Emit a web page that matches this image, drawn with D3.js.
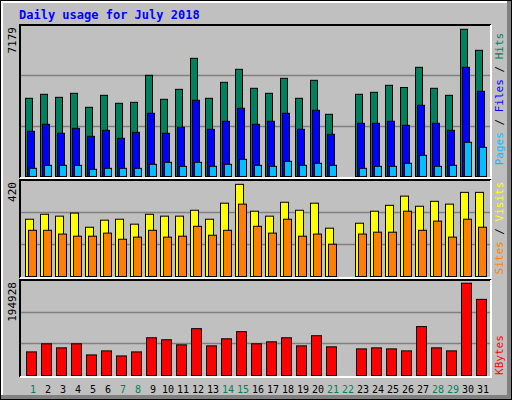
<!DOCTYPE html>
<html>
<head>
<meta charset="utf-8">
<script src="https://cdn.jsdelivr.net/npm/d3@7"></script>
<style>
body { margin: 0; background: #fff; }
text { font-family: "DejaVu Sans Mono", monospace; }
</style>
</head>
<body>
<div id="chart"></div>
<script>
// data (day 22 has no data)
var days = d3.range(1, 32);
var weekend = [1, 7, 8, 14, 15, 21, 22, 28, 29];
var hits = [3718, 3908, 3765, 3955, 3290, 3860, 3480, 3527, 4811, 3670, 4145, 5619, 3718, 4478, 5096, 4193,
            3955, 4668, 3718, 4573, 2957, 0, 3908, 4003, 4336, 4231, 5191, 4193, 3860, 6998, 5999];
var files = [2149, 2482, 2054, 2291, 1911, 2196, 1816, 2101, 3005, 2054, 2339, 3623, 2244, 2624, 3242, 2482,
             2624, 3005, 2244, 3147, 2006, 0, 2529, 2529, 2624, 2434, 3385, 2529, 2196, 5191, 4050];
var pages = [390, 532, 532, 532, 342, 390, 390, 390, 580, 675, 485, 675, 485, 580, 818, 532,
             485, 723, 532, 628, 532, 0, 390, 485, 485, 628, 1008, 485, 532, 1626, 1388];
var visits = [243, 264, 256, 269, 209, 239, 243, 222, 264, 256, 256, 281, 243, 311, 391, 277,
              256, 315, 281, 311, 205, 0, 226, 277, 302, 341, 298, 319, 307, 357, 357];
var sites = [196, 196, 180, 171, 171, 184, 158, 167, 196, 167, 171, 213, 175, 196, 307, 213,
             184, 243, 171, 180, 137, 0, 180, 188, 188, 277, 196, 235, 167, 243, 209];
var kbytes = [48400, 65000, 56700, 65000, 42200, 50500, 40100, 48400, 77400, 73300, 62900, 96100, 60800, 75300, 89900, 65000,
              69100, 77400, 60800, 81600, 58800, 0, 54600, 56700, 54600, 50500, 100300, 56700, 50500, 189400, 156200];

var W = 512, H = 400;
var svg = d3.select("#chart").append("svg").attr("width", W).attr("height", H);

// outer frame
svg.append("rect").attr("x", 0).attr("y", 0).attr("width", W).attr("height", H).attr("fill", "#000");
svg.append("rect").attr("x", 1).attr("y", 1).attr("width", W - 2).attr("height", H - 2).attr("fill", "#808080");
svg.append("rect").attr("x", 1).attr("y", 1).attr("width", W - 6).attr("height", H - 6).attr("fill", "#fff");
svg.append("rect").attr("x", 3).attr("y", 3).attr("width", W - 8).attr("height", H - 8).attr("fill", "#c0c0c0");

svg.append("text").attr("x", 19).attr("y", 19)
    .attr("font-size", "12px").attr("font-weight", "bold").attr("fill", "#0000ff")
    .text("Daily usage for July 2018");

var x = d3.scaleLinear().domain([1, 31]).range([25, 475]);

function panel(top, bottom, max, label) {
    svg.append("rect").attr("x", 20).attr("y", top).attr("width", 471).attr("height", bottom - top + 2)
        .attr("fill", "#c0c0c0").attr("stroke", "none");
    svg.append("path").attr("d", `M20,${bottom + 2}V${top}H491`).attr("stroke", "#000").attr("stroke-width", 2).attr("fill", "none");
    svg.append("path").attr("d", `M20,${bottom + 2}H491V${top}`).attr("stroke", "#fff").attr("stroke-width", 2).attr("fill", "none");
    var y = d3.scaleLinear().domain([0, max]).range([bottom, top]);
    [1, 2].forEach(function (k) {
        svg.append("line").attr("x1", 21).attr("x2", 490)
            .attr("y1", Math.round(y(max * k / 3)) + 0.5).attr("y2", Math.round(y(max * k / 3)) + 0.5)
            .attr("stroke", "#808080").attr("stroke-width", 1.5);
    });
    svg.append("text").attr("transform", `translate(16,${top + 2}) rotate(-90)`)
        .attr("text-anchor", "end").attr("font-size", "11px").attr("fill", "#000").text(label);
    return y;
}

function bars(y, vals, dx, w, color) {
    svg.append("g").selectAll("rect").data(days.filter(function (d) { return vals[d - 1] > 0; }))
        .enter().append("rect")
        .attr("x", function (d) { return x(d) + dx + 0.5; })
        .attr("y", function (d) { return y(vals[d - 1]) + 0.5; })
        .attr("width", w)
        .attr("height", function (d) { return y(0) - y(vals[d - 1]); })
        .attr("fill", color).attr("stroke", "#000").attr("stroke-width", 1);
}

var y1 = panel(25, 176, 7179, "7179");
bars(y1, hits, 0, 7, "#00805c");
bars(y1, files, 2, 7, "#0000ff");
bars(y1, pages, 4, 7, "#00c0ff");

var y2 = panel(180, 276, 420, "420");
y2.range([276, 177]);
bars(y2, visits, 0, 8, "#ffff00");
bars(y2, sites, 3, 8, "#ff8000");

var y3 = panel(280, 375, 194928, "194928");
bars(y3, kbytes, 1, 10, "#ff0000");

// right-side labels
function rightLabel(cy, parts) {
    var t = svg.append("text").attr("transform", `translate(503,${cy}) rotate(-90)`)
        .attr("text-anchor", "middle").attr("font-size", "11px");
    parts.forEach(function (p) { t.append("tspan").attr("fill", p[1]).text(p[0]); });
}
rightLabel(99, [["Pages", "#00c0ff"], [" / ", "#000"], ["Files", "#0000ff"], [" / ", "#000"], ["Hits", "#00805c"]]);
rightLabel(228, [["Sites", "#ff8000"], [" / ", "#000"], ["Visits", "#ffff00"]]);
rightLabel(355, [["KBytes", "#ff0000"]]);

// day labels
svg.append("g").selectAll("text").data(days).enter().append("text")
    .attr("x", function (d) { return x(d) + 8; })
    .attr("y", 393)
    .attr("text-anchor", "middle").attr("font-size", "10px")
    .attr("fill", function (d) { return weekend.indexOf(d) >= 0 ? "#00805c" : "#000"; })
    .text(function (d) { return d; });
</script>
</body>
</html>
